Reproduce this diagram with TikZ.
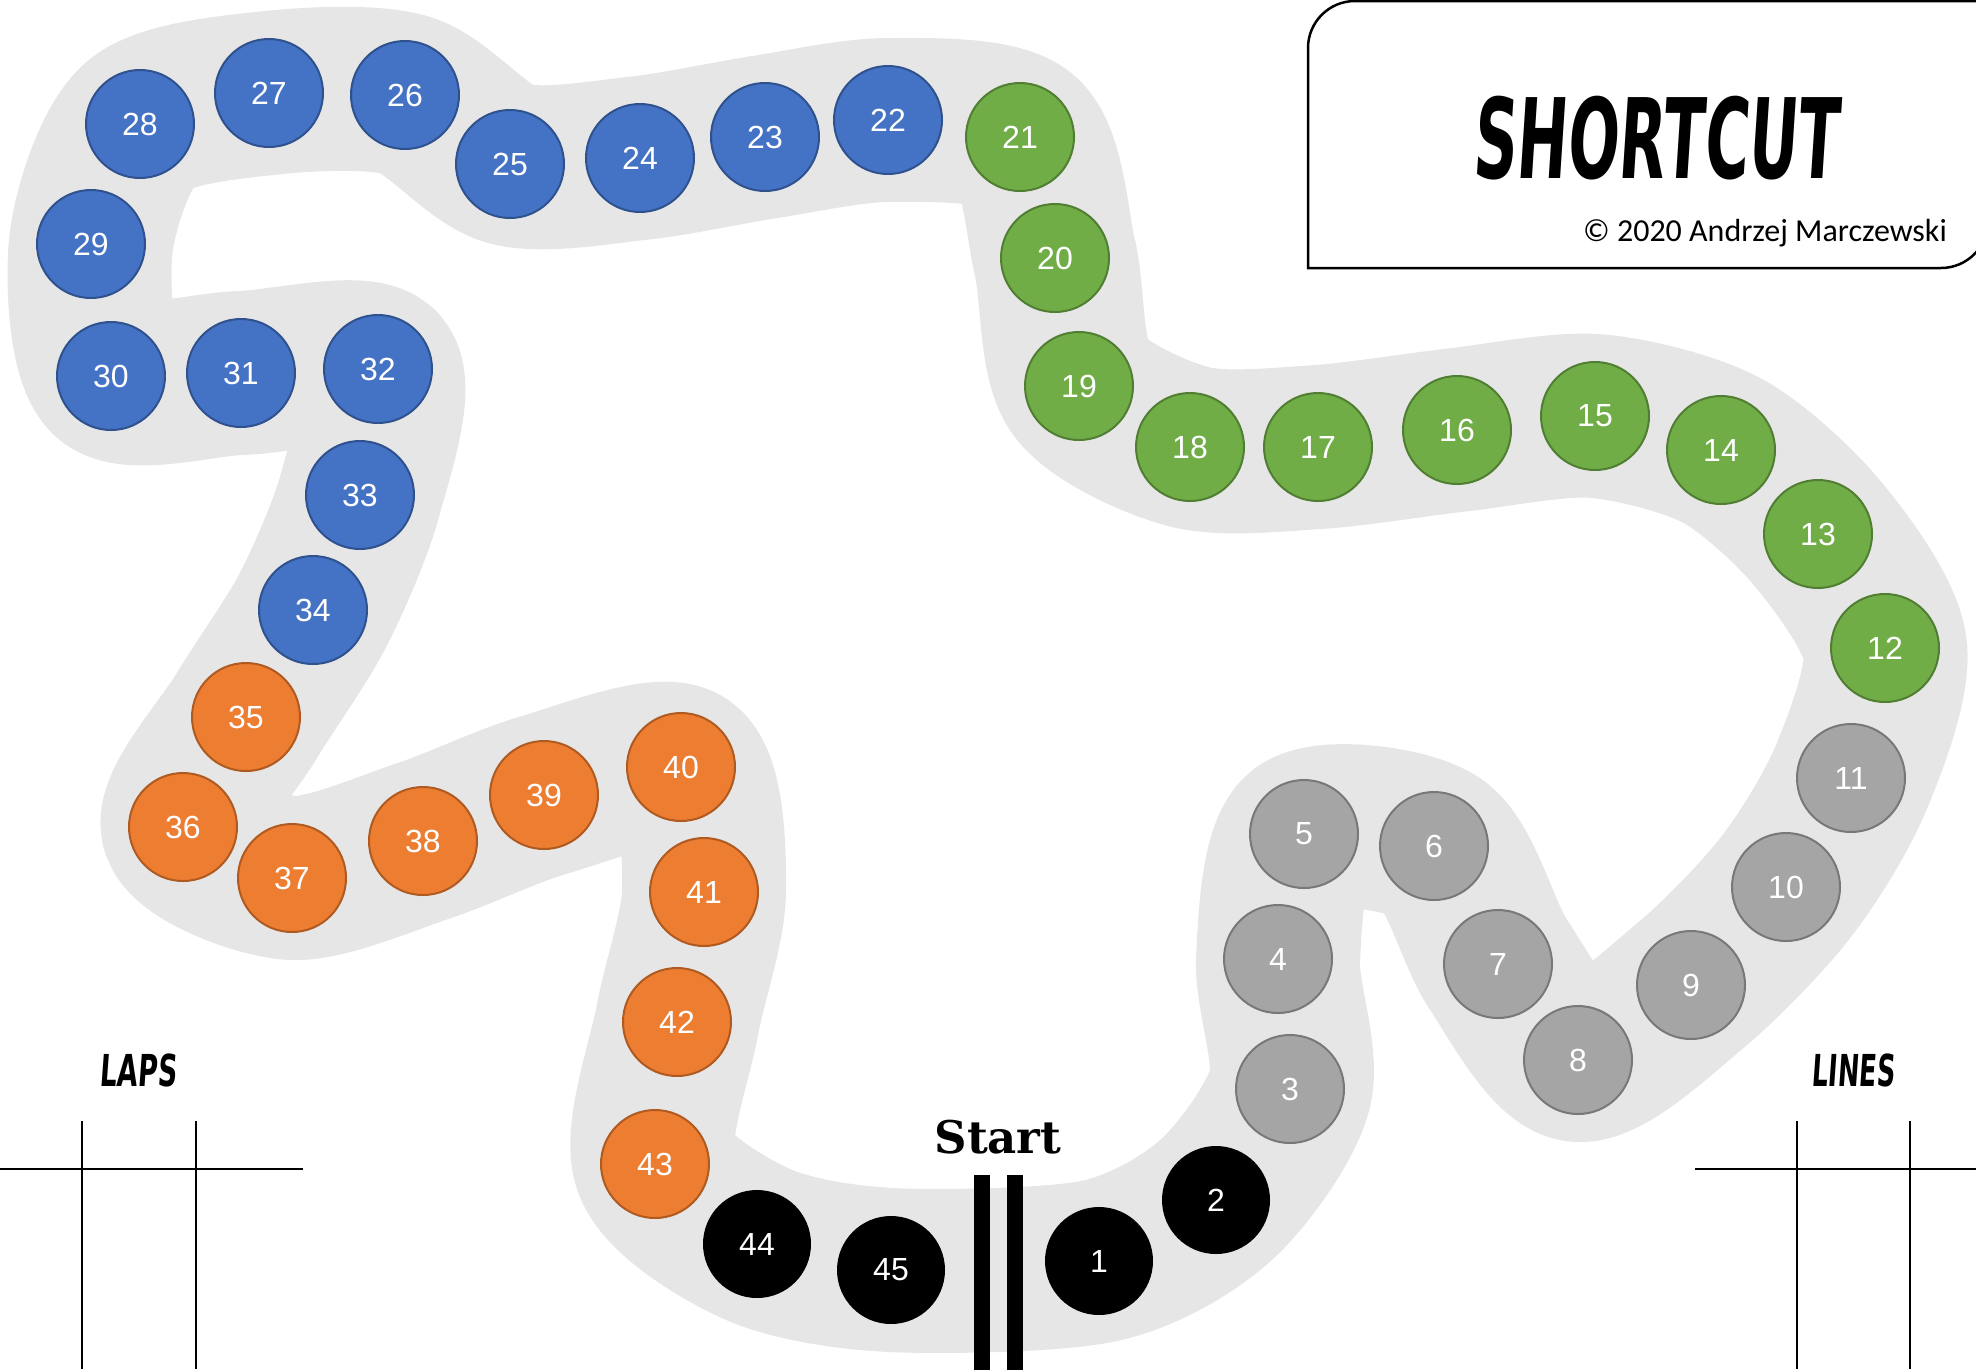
\documentclass[tikz,border=0pt]{standalone}
\usepackage{fontspec}
\usepackage{graphicx}
\usetikzlibrary{backgrounds}
\setmainfont{Liberation Sans}
\newfontfamily\titleFont[FakeSlant=0.12]{DejaVu Sans}
\newfontfamily\startFont{DejaVu Serif}
\newfontfamily\noteFont{Carlito}
\definecolor{colorTrack}{HTML}{E7E6E6}
\definecolor{colorBlue}{HTML}{4472C4}
\definecolor{borderBlue}{HTML}{2F528F}
\definecolor{colorGreen}{HTML}{70AD47}
\definecolor{borderGreen}{HTML}{507E32}
\definecolor{colorOrange}{HTML}{ED7D31}
\definecolor{borderOrange}{HTML}{AE5A21}
\definecolor{colorGrey}{HTML}{A5A5A5}
\definecolor{borderGrey}{HTML}{787878}
\newcommand{\squeeze}[2]{\scalebox{#1}[1]{#2}}

\begin{document}
\begin{tikzpicture}[
        x=1pt, y=-1pt,
        spot/.style={circle, minimum size=108pt, inner sep=0pt, line width=2pt,
            text=white, font=\fontsize{32}{32}\selectfont},
        blackSpot/.style={spot, fill=black},
        greySpot/.style={spot, draw=borderGrey, fill=colorGrey},
        greenSpot/.style={spot, draw=borderGreen, fill=colorGreen},
        blueSpot/.style={spot, draw=borderBlue, fill=colorBlue},
        orangeSpot/.style={spot, draw=borderOrange, fill=colorOrange},
        track/.style={draw=colorTrack, line width=164pt, line join=round},
        heading/.style={inner sep=0pt, font=\titleFont\bfseries\fontsize{44}{44}\selectfont},
        gridLine/.style={line width=1.5pt},
        frame/.style={line width=2.5pt}
    ]
        \useasboundingbox (0,0) rectangle (1976,1369);

        % spaces of the track
        \foreach \n/\x/\y in {1/1099/1261, 2/1216/1200, 44/757/1244, 45/891/1270}
            \node[blackSpot] (s\n) at (\x,\y) {\n};
        \foreach \n/\x/\y in {3/1290/1089, 4/1278/959, 5/1304/834, 6/1434/846, 7/1498/964,
                8/1578/1060, 9/1691/985, 10/1786/887, 11/1851/778}
            \node[greySpot] (s\n) at (\x,\y) {\n};
        \foreach \n/\x/\y in {12/1885/648, 13/1818/534, 14/1721/450, 15/1595/416, 16/1457/430,
                17/1318/447, 18/1190/447, 19/1079/386, 20/1055/258, 21/1020/137}
            \node[greenSpot] (s\n) at (\x,\y) {\n};
        \foreach \n/\x/\y in {22/888/120, 23/765/137, 24/640/158, 25/510/164, 26/405/95,
                27/269/93, 28/140/124, 29/91/244, 30/111/376, 31/241/373, 32/378/369,
                33/360/495, 34/313/610}
            \node[blueSpot] (s\n) at (\x,\y) {\n};
        \foreach \n/\x/\y in {35/246/717, 36/183/827, 37/292/878, 38/423/841, 39/544/795,
                40/681/767, 41/704/892, 42/677/1022, 43/655/1164}
            \node[orangeSpot] (s\n) at (\x,\y) {\n};

        \begin{scope}[on background layer]
            \draw[track] plot[smooth cycle] coordinates {(s1.center) (s2.center) (s3.center)
                (s4.center) (s5.center) (s6.center) (s7.center) (s8.center) (s9.center)
                (s10.center) (s11.center) (s12.center) (s13.center) (s14.center) (s15.center)
                (s16.center) (s17.center) (s18.center) (s19.center) (s20.center) (s21.center)
                (s22.center) (s23.center) (s24.center) (s25.center) (s26.center) (s27.center)
                (s28.center) (s29.center) (s30.center) (s31.center) (s32.center) (s33.center)
                (s34.center) (s35.center) (s36.center) (s37.center) (s38.center) (s39.center)
                (s40.center) (s41.center) (s42.center) (s43.center) (s44.center) (s45.center)};
        \end{scope}

        % start line
        \fill (974,1175) rectangle (990,1375);
        \fill (1007,1175) rectangle (1023,1375);
        \node[inner sep=0pt, font=\startFont\bfseries\fontsize{45}{45}\selectfont] (startLabel) at (998,1137) {Start};

        % title box
        \draw[frame] (1308,268) -- (1308,48) arc[start angle=180, end angle=270, radius=47]
            -- (1988,1) -- (1988,221) arc[start angle=0, end angle=90, radius=47] -- cycle;
        \node[heading, font=\titleFont\bfseries\fontsize{111}{111}\selectfont] (title) at (1655,138) {\squeeze{0.545}{SHORTCUT}};
        \node[anchor=base east, inner sep=0pt, font=\noteFont\fontsize{32}{32}\selectfont] (credit) at (1947,241) {© 2020 Andrzej Marczewski};

        % score tables
        \node[heading] (laps) at (138,1070) {\squeeze{0.61}{LAPS}};
        \draw[gridLine] (82,1121) -- (82,1369);
        \draw[gridLine] (196,1121) -- (196,1369);
        \draw[gridLine] (0,1169) -- (303,1169);
        \node[heading] (lines) at (1853,1070) {\squeeze{0.58}{LINES}};
        \draw[gridLine] (1797,1121) -- (1797,1369);
        \draw[gridLine] (1910,1121) -- (1910,1369);
        \draw[gridLine] (1695,1169) -- (1976,1169);
    \end{tikzpicture}
\end{document}
